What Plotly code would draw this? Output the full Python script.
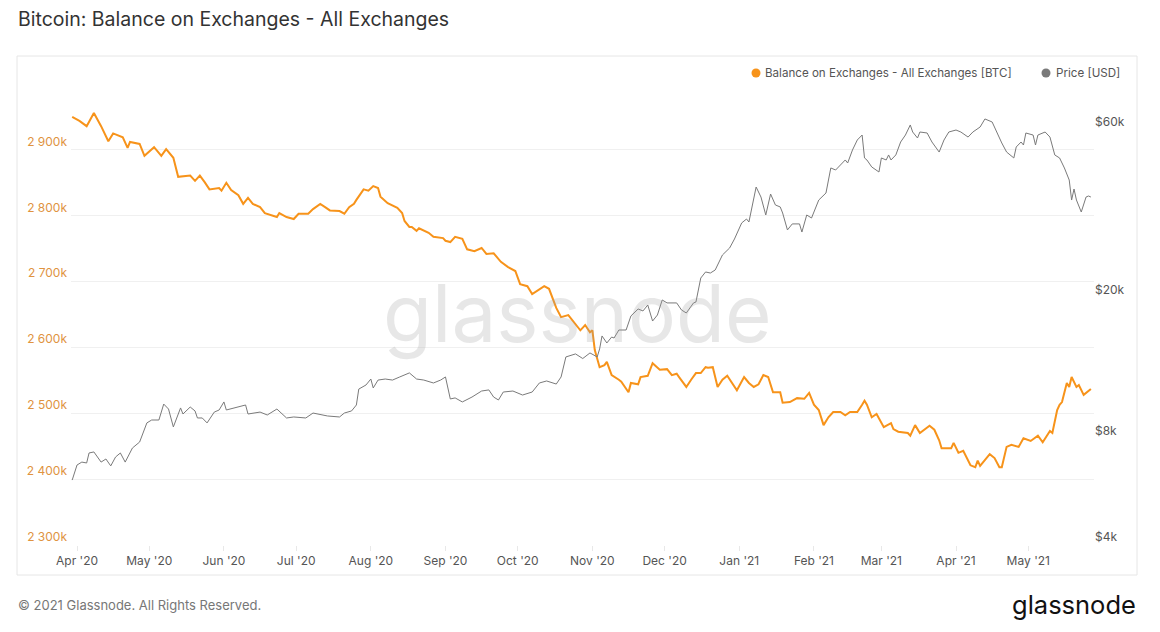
import plotly.graph_objects as go

# ---------------- data ----------------
balance_dates = [
    "2020-03-30", "2020-04-02", "2020-04-05", "2020-04-08", "2020-04-11", "2020-04-14", "2020-04-16",
    "2020-04-20", "2020-04-22", "2020-04-23", "2020-04-27", "2020-04-29", "2020-05-03", "2020-05-06",
    "2020-05-08", "2020-05-11", "2020-05-13", "2020-05-18", "2020-05-20", "2020-05-22", "2020-05-24",
    "2020-05-26", "2020-05-30", "2020-05-31", "2020-06-02", "2020-06-04", "2020-06-07", "2020-06-09",
    "2020-06-11", "2020-06-13", "2020-06-16", "2020-06-18", "2020-06-23", "2020-06-24", "2020-06-27",
    "2020-06-30", "2020-07-02", "2020-07-06", "2020-07-08", "2020-07-11", "2020-07-13", "2020-07-15",
    "2020-07-19", "2020-07-21", "2020-07-23", "2020-07-25", "2020-07-26", "2020-07-29", "2020-07-31",
    "2020-08-02", "2020-08-04", "2020-08-05", "2020-08-08", "2020-08-10", "2020-08-12", "2020-08-14",
    "2020-08-15", "2020-08-17", "2020-08-18", "2020-08-20", "2020-08-21", "2020-08-25", "2020-08-27",
    "2020-08-31", "2020-09-01", "2020-09-03", "2020-09-05", "2020-09-08", "2020-09-10", "2020-09-13",
    "2020-09-16", "2020-09-18", "2020-09-21", "2020-09-24", "2020-09-27", "2020-09-30", "2020-10-02",
    "2020-10-05", "2020-10-07", "2020-10-12", "2020-10-14", "2020-10-17", "2020-10-19", "2020-10-22",
    "2020-10-25", "2020-10-27", "2020-10-29", "2020-10-31", "2020-11-01", "2020-11-02", "2020-11-04",
    "2020-11-06", "2020-11-07", "2020-11-09", "2020-11-12", "2020-11-13", "2020-11-16", "2020-11-17",
    "2020-11-20", "2020-11-21", "2020-11-24", "2020-11-26", "2020-11-29", "2020-12-02", "2020-12-04",
    "2020-12-06", "2020-12-07", "2020-12-10", "2020-12-12", "2020-12-14", "2020-12-16", "2020-12-18",
    "2020-12-19", "2020-12-21", "2020-12-23", "2020-12-25", "2020-12-27", "2020-12-31", "2021-01-03",
    "2021-01-05", "2021-01-07", "2021-01-09", "2021-01-11", "2021-01-13", "2021-01-15", "2021-01-18",
    "2021-01-19", "2021-01-22", "2021-01-25", "2021-01-28", "2021-01-30", "2021-02-01", "2021-02-03",
    "2021-02-05", "2021-02-07", "2021-02-09", "2021-02-12", "2021-02-14", "2021-02-16", "2021-02-19",
    "2021-02-21", "2021-02-22", "2021-02-23", "2021-02-25", "2021-02-27", "2021-03-02", "2021-03-05",
    "2021-03-06", "2021-03-08", "2021-03-12", "2021-03-13", "2021-03-15", "2021-03-17", "2021-03-19",
    "2021-03-21", "2021-03-23", "2021-03-25", "2021-03-26", "2021-03-30", "2021-03-31", "2021-04-02",
    "2021-04-04", "2021-04-07", "2021-04-09", "2021-04-10", "2021-04-11", "2021-04-15", "2021-04-17",
    "2021-04-19", "2021-04-20", "2021-04-22", "2021-04-24", "2021-04-27", "2021-04-29", "2021-05-02",
    "2021-05-05", "2021-05-07", "2021-05-10", "2021-05-11", "2021-05-13", "2021-05-14", "2021-05-15",
    "2021-05-17", "2021-05-18", "2021-05-19", "2021-05-21", "2021-05-22", "2021-05-24", "2021-05-27",
]
balance_k = [
    2950, 2944, 2936, 2956, 2936, 2913, 2925,
    2919, 2903, 2912, 2909, 2891, 2904, 2891,
    2901, 2888, 2859, 2861, 2853, 2861, 2851,
    2840, 2842, 2838, 2850, 2839, 2831, 2818,
    2827, 2818, 2813, 2804, 2798, 2804, 2798,
    2795, 2803, 2803, 2810, 2818, 2813, 2808,
    2807, 2803, 2813, 2818, 2824, 2840, 2838,
    2845, 2842, 2829, 2819, 2816, 2812, 2804,
    2792, 2783, 2783, 2777, 2781, 2774, 2768,
    2766, 2762, 2760, 2768, 2765, 2749, 2746,
    2751, 2742, 2743, 2730, 2722, 2716, 2696,
    2693, 2681, 2693, 2689, 2660, 2646, 2649,
    2636, 2626, 2634, 2623, 2626, 2596, 2570,
    2573, 2578, 2558, 2551, 2548, 2532, 2546,
    2544, 2555, 2557, 2576, 2566, 2567, 2558,
    2560, 2555, 2540, 2551, 2561, 2561, 2570,
    2569, 2570, 2540, 2551, 2557, 2535, 2555,
    2546, 2540, 2544, 2558, 2555, 2532, 2532,
    2516, 2517, 2523, 2522, 2531, 2513, 2505,
    2482, 2494, 2502, 2502, 2497, 2502, 2502,
    2513, 2519, 2513, 2494, 2499, 2479, 2485,
    2476, 2472, 2470, 2466, 2482, 2470, 2475,
    2481, 2475, 2459, 2447, 2447, 2455, 2440,
    2443, 2421, 2418, 2428, 2420, 2438, 2432,
    2418, 2418, 2449, 2452, 2449, 2462, 2458,
    2466, 2456, 2473, 2470, 2505, 2513, 2517,
    2546, 2540, 2555, 2540, 2543, 2528, 2537,
]
balance_btc = [v * 1000 for v in balance_k]

price_dates = [
    "2020-03-30", "2020-03-31", "2020-04-01", "2020-04-03", "2020-04-05", "2020-04-06", "2020-04-08",
    "2020-04-11", "2020-04-13", "2020-04-15", "2020-04-17", "2020-04-19", "2020-04-21", "2020-04-24",
    "2020-04-27", "2020-04-30", "2020-05-02", "2020-05-05", "2020-05-07", "2020-05-09", "2020-05-11",
    "2020-05-14", "2020-05-15", "2020-05-18", "2020-05-20", "2020-05-21", "2020-05-23", "2020-05-25",
    "2020-05-28", "2020-05-30", "2020-06-01", "2020-06-02", "2020-06-08", "2020-06-10", "2020-06-11",
    "2020-06-16", "2020-06-19", "2020-06-23", "2020-06-27", "2020-06-30", "2020-07-05", "2020-07-08",
    "2020-07-14", "2020-07-19", "2020-07-21", "2020-07-24", "2020-07-26", "2020-07-27", "2020-07-30",
    "2020-08-01", "2020-08-02", "2020-08-04", "2020-08-07", "2020-08-10", "2020-08-13", "2020-08-17",
    "2020-08-20", "2020-08-23", "2020-08-27", "2020-08-30", "2020-09-01", "2020-09-03", "2020-09-05",
    "2020-09-08", "2020-09-12", "2020-09-16", "2020-09-19", "2020-09-21", "2020-09-23", "2020-09-25",
    "2020-09-29", "2020-10-03", "2020-10-07", "2020-10-10", "2020-10-13", "2020-10-17", "2020-10-19",
    "2020-10-21", "2020-10-25", "2020-10-27", "2020-10-28", "2020-10-31", "2020-11-03", "2020-11-04",
    "2020-11-05", "2020-11-07", "2020-11-09", "2020-11-10", "2020-11-12", "2020-11-15", "2020-11-17",
    "2020-11-20", "2020-11-22", "2020-11-24", "2020-11-26", "2020-11-28", "2020-11-30", "2020-12-02",
    "2020-12-04", "2020-12-06", "2020-12-08", "2020-12-10", "2020-12-13", "2020-12-14", "2020-12-16",
    "2020-12-18", "2020-12-20", "2020-12-22", "2020-12-25", "2020-12-28", "2020-12-30", "2021-01-02",
    "2021-01-04", "2021-01-05", "2021-01-08", "2021-01-10", "2021-01-12", "2021-01-14", "2021-01-16",
    "2021-01-18", "2021-01-19", "2021-01-21", "2021-01-23", "2021-01-26", "2021-01-27", "2021-01-29",
    "2021-01-31", "2021-02-03", "2021-02-06", "2021-02-08", "2021-02-10", "2021-02-12", "2021-02-13",
    "2021-02-14", "2021-02-15", "2021-02-17", "2021-02-19", "2021-02-21", "2021-02-22", "2021-02-23",
    "2021-02-25", "2021-02-28", "2021-03-01", "2021-03-03", "2021-03-04", "2021-03-05", "2021-03-07",
    "2021-03-09", "2021-03-11", "2021-03-13", "2021-03-14", "2021-03-16", "2021-03-17", "2021-03-20",
    "2021-03-22", "2021-03-25", "2021-03-27", "2021-03-29", "2021-04-01", "2021-04-03", "2021-04-06",
    "2021-04-08", "2021-04-11", "2021-04-13", "2021-04-16", "2021-04-18", "2021-04-20", "2021-04-22",
    "2021-04-25", "2021-04-26", "2021-04-28", "2021-04-29", "2021-04-30", "2021-05-03", "2021-05-04",
    "2021-05-05", "2021-05-08", "2021-05-10", "2021-05-12", "2021-05-14", "2021-05-16", "2021-05-18",
    "2021-05-19", "2021-05-20", "2021-05-21", "2021-05-23", "2021-05-25", "2021-05-26", "2021-05-27",
]
price_usd = [
    6110, 6440, 6740, 6870, 6830, 7290, 7340,
    6870, 7010, 6700, 7100, 7290, 6870, 7530,
    7830, 8870, 9040, 9040, 10030, 9710, 8640,
    9780, 9400, 9840, 9590, 9160, 9160, 8870,
    9520, 9650, 10170, 9650, 9900, 9970, 9400,
    9520, 9340, 9710, 9160, 9220, 9160, 9460,
    9280, 9220, 9460, 9590, 9970, 11060, 11360,
    11810, 11140, 11730, 11810, 11730, 11970, 12290,
    11810, 11730, 11510, 11730, 11970, 10370, 10440,
    10170, 10500, 10920, 11000, 10500, 10300, 10850,
    10920, 10640, 10850, 11510, 11660, 11430, 11970,
    13640, 13910, 13640, 13500, 14000, 13640, 14370,
    15640, 14940, 15530, 15430, 16260, 16260, 17820,
    18650, 18410, 19140, 17240, 17930, 19780, 19400,
    19400, 19400, 18530, 18170, 19400, 19520, 22820,
    23740, 23580, 24050, 26520, 27770, 29440, 32690,
    33540, 32890, 41320, 38710, 34430, 39480, 36750,
    36280, 34880, 31230, 32480, 32480, 30810, 34430,
    33760, 37960, 39740, 46790, 46170, 47710, 48650,
    49290, 48330, 52610, 56150, 58000, 49940, 49290,
    47090, 45570, 49940, 49290, 50930, 49290, 50930,
    55420, 58000, 61930, 59160, 56890, 59160, 58780,
    55420, 51910, 56150, 59160, 59930, 59160, 57240,
    59160, 61120, 64410, 63150, 58780, 55070, 51910,
    49940, 53650, 55420, 54350, 58780, 58000, 54350,
    58000, 59160, 57240, 50930, 49940, 46790, 43250,
    37960, 40790, 37960, 35110, 38710, 38970, 38710,
]

left_ticks_k = [2300, 2400, 2500, 2600, 2700, 2800, 2900, 3000]
left_tick_text = ["2 300k", "2 400k", "2 500k", "2 600k", "2 700k", "2 800k", "2 900k", ""]
right_ticks = [4000, 8000, 20000, 60000]
right_tick_text = ["$4k", "$8k", "$20k", "$60k"]
legend_names = ["Balance on Exchanges - All Exchanges [BTC]", "Price [USD]"]

ORANGE = "#f7931a"
GRAY = "#7a7a7a"
FONT = "Inter"

# --------------- figure ---------------
fig = go.Figure()

fig.add_trace(go.Scatter(
    x=balance_dates, y=balance_btc, mode="lines",
    line=dict(color=ORANGE, width=2), yaxis="y", showlegend=False,
    name=legend_names[0],
))
fig.add_trace(go.Scatter(
    x=price_dates, y=price_usd, mode="lines",
    line=dict(color=GRAY, width=1), yaxis="y2", showlegend=False,
    name=legend_names[1],
))

# the page body has an 8px margin: lay out the figure in page coordinates minus 8
OFF = 8
W, H = 1160 - OFF, 632 - OFF
L, T = 71 - OFF, 84 - OFF
R = W - (1094 - OFF)
B = H - (545 - OFF)
pw, ph = W - L - R, H - T - B


def px(xp):
    return (xp - OFF - L) / pw


def py(yp):
    return (H - B - (yp - OFF)) / ph


def dot(cx, cy, color, r=4.5):
    return dict(type="circle", xref="paper", yref="paper",
                x0=px(cx - r), x1=px(cx + r), y0=py(cy + r), y1=py(cy - r),
                fillcolor=color, line=dict(width=0))


fig.update_layout(
    width=W, height=H,
    margin=dict(l=L, r=R, t=T, b=B, pad=0),
    paper_bgcolor="white", plot_bgcolor="white",
    font=dict(family=FONT, color="#555555", size=12),
    showlegend=False,
    xaxis=dict(
        type="date", range=["2020-03-29 12:00", "2021-05-28 07:00"],
        dtick="M1", tick0="2020-04-01", tickformat="%b '%y",
        showgrid=False, zeroline=False, showline=False,
        ticks="outside", ticklen=5, tickcolor="#e8e8e8", tickwidth=1,
        tickfont=dict(size=12, color="#555555", family=FONT),
    ),
    yaxis=dict(
        range=[2300000, 3000000], tickvals=[v * 1000 for v in left_ticks_k],
        ticktext=left_tick_text, ticklabelposition="outside top",
        showgrid=True, gridcolor="#f0f0f0", gridwidth=1, zeroline=False,
        showline=False, ticks="", ticklabelstandoff=3,
        tickfont=dict(size=12, color="#e0933f", family=FONT),
    ),
    yaxis2=dict(
        type="log", range=[3.60206, 4.908], overlaying="y", side="right",
        tickvals=right_ticks, ticktext=right_tick_text, ticklabelposition="outside top",
        showgrid=False, zeroline=False, showline=False, ticks="",
        tickfont=dict(size=12, color="#555555", family=FONT),
    ),
    shapes=[
        dict(type="rect", xref="paper", yref="paper", x0=px(17), x1=px(1137), y0=py(575), y1=py(56),
             line=dict(color="#e6e6e6", width=1), fillcolor="rgba(0,0,0,0)", layer="below"),
        dot(756, 73, ORANGE),
        dot(1046, 73, GRAY),
    ],
    annotations=[
        dict(text="Bitcoin: Balance on Exchanges - All Exchanges", xref="paper", yref="paper",
             x=px(16), y=py(19), xanchor="left", yanchor="middle", showarrow=False,
             font=dict(size=19.5, color="#333333", family=FONT)),
        dict(text="glassnode", xref="paper", yref="paper", x=px(577), y=py(312),
             xanchor="center", yanchor="middle", showarrow=False,
             font=dict(size=80, color="rgba(160,160,160,0.25)", family=FONT)),
        dict(text=legend_names[0], xref="paper", yref="paper", x=px(763), y=py(73),
             xanchor="left", yanchor="middle", showarrow=False,
             font=dict(size=11.6, color="#555555", family=FONT)),
        dict(text=legend_names[1], xref="paper", yref="paper", x=px(1054), y=py(73),
             xanchor="left", yanchor="middle", showarrow=False,
             font=dict(size=11.6, color="#555555", family=FONT)),
        dict(text="© 2021 Glassnode. All Rights Reserved.", xref="paper", yref="paper",
             x=px(16), y=py(605), xanchor="left", yanchor="middle", showarrow=False,
             font=dict(size=13, color="#777777", family=FONT)),
        dict(text="glassnode", xref="paper", yref="paper", x=px(1138), y=py(604),
             xanchor="right", yanchor="middle", showarrow=False,
             font=dict(size=25.5, color="#111111", family=FONT)),
    ],
)

fig.write_html("out.html")
